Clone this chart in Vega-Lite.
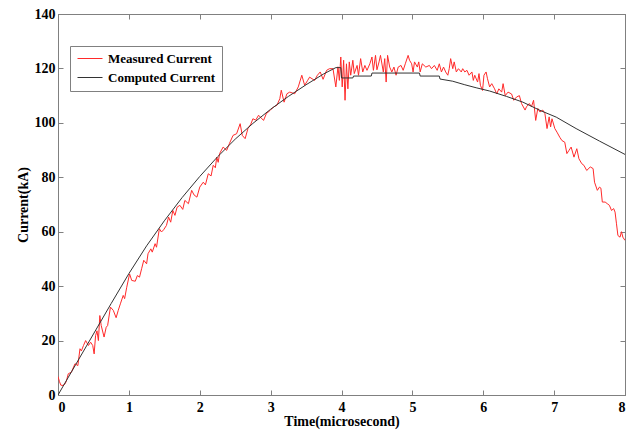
{
  "$schema": "https://vega.github.io/schema/vega-lite/v6.json",
  "autosize": {"type": "none"},
  "width": 567,
  "height": 381,
  "padding": {"left": 58, "top": 14, "right": 9, "bottom": 36},
  "background": "white",
  "config": {
    "view": {"stroke": "#808080", "strokeWidth": 1},
    "font": "Liberation Serif",
    "axis": {
      "grid": false,
      "domainColor": "#808080",
      "tickColor": "#808080",
      "tickSize": -5,
      "labelFont": "Liberation Serif",
      "labelFontWeight": "bold",
      "labelFontSize": 14,
      "labelColor": "black",
      "titleFont": "Liberation Serif",
      "titleFontWeight": "bold",
      "titleFontSize": 14,
      "titleColor": "black"
    },
    "legend": {
      "labelFont": "Liberation Serif",
      "labelFontWeight": "bold",
      "labelFontSize": 13,
      "labelColor": "black"
    }
  },
  "data": {"values": [
    {"t":0,"i":6.8,"s":"Measured Current"},{"t":0.02,"i":5.0,"s":"Measured Current"},{"t":0.04,"i":3.6,"s":"Measured Current"},{"t":0.07,"i":3.5,"s":"Measured Current"},{"t":0.1,"i":4.1,"s":"Measured Current"},{"t":0.12,"i":5.3,"s":"Measured Current"},{"t":0.145,"i":7.8,"s":"Measured Current"},{"t":0.19,"i":8.4,"s":"Measured Current"},{"t":0.24,"i":11.5,"s":"Measured Current"},{"t":0.28,"i":10.8,"s":"Measured Current"},
    {"t":0.31,"i":17,"s":"Measured Current"},{"t":0.33,"i":16.2,"s":"Measured Current"},{"t":0.36,"i":18.2,"s":"Measured Current"},{"t":0.39,"i":20,"s":"Measured Current"},{"t":0.43,"i":18.2,"s":"Measured Current"},{"t":0.46,"i":19.4,"s":"Measured Current"},{"t":0.49,"i":18.2,"s":"Measured Current"},{"t":0.51,"i":15.1,"s":"Measured Current"},{"t":0.53,"i":21.8,"s":"Measured Current"},{"t":0.55,"i":23.6,"s":"Measured Current"},
    {"t":0.57,"i":20,"s":"Measured Current"},{"t":0.59,"i":29.2,"s":"Measured Current"},{"t":0.61,"i":25.5,"s":"Measured Current"},{"t":0.65,"i":21.3,"s":"Measured Current"},{"t":0.68,"i":24.9,"s":"Measured Current"},{"t":0.70,"i":25.5,"s":"Measured Current"},{"t":0.74,"i":32.3,"s":"Measured Current"},{"t":0.78,"i":31.1,"s":"Measured Current"},{"t":0.82,"i":28.4,"s":"Measured Current"},{"t":0.85,"i":31.1,"s":"Measured Current"},
    {"t":0.88,"i":33.5,"s":"Measured Current"},{"t":0.92,"i":36.6,"s":"Measured Current"},{"t":0.94,"i":35.4,"s":"Measured Current"},{"t":0.97,"i":39.6,"s":"Measured Current"},{"t":1.01,"i":44.5,"s":"Measured Current"},{"t":1.04,"i":42.1,"s":"Measured Current"},{"t":1.09,"i":41.8,"s":"Measured Current"},{"t":1.12,"i":43.9,"s":"Measured Current"},{"t":1.15,"i":43.3,"s":"Measured Current"},{"t":1.18,"i":46.4,"s":"Measured Current"},
    {"t":1.21,"i":49.5,"s":"Measured Current"},{"t":1.25,"i":48.2,"s":"Measured Current"},{"t":1.27,"i":51.9,"s":"Measured Current"},{"t":1.31,"i":53.7,"s":"Measured Current"},{"t":1.33,"i":52.5,"s":"Measured Current"},{"t":1.37,"i":55.6,"s":"Measured Current"},{"t":1.39,"i":54.3,"s":"Measured Current"},{"t":1.43,"i":61.1,"s":"Measured Current"},{"t":1.46,"i":59.9,"s":"Measured Current"},{"t":1.49,"i":60.7,"s":"Measured Current"},
    {"t":1.53,"i":62.3,"s":"Measured Current"},{"t":1.56,"i":65.4,"s":"Measured Current"},{"t":1.59,"i":63.5,"s":"Measured Current"},{"t":1.62,"i":67.8,"s":"Measured Current"},{"t":1.65,"i":66.0,"s":"Measured Current"},{"t":1.68,"i":69.0,"s":"Measured Current"},{"t":1.72,"i":69.7,"s":"Measured Current"},{"t":1.76,"i":68.2,"s":"Measured Current"},{"t":1.79,"i":71.5,"s":"Measured Current"},{"t":1.84,"i":70.3,"s":"Measured Current"},
    {"t":1.886,"i":75.2,"s":"Measured Current"},{"t":1.92,"i":73.5,"s":"Measured Current"},{"t":1.96,"i":72.7,"s":"Measured Current"},{"t":2.0,"i":76.4,"s":"Measured Current"},{"t":2.05,"i":78.2,"s":"Measured Current"},{"t":2.08,"i":77.2,"s":"Measured Current"},{"t":2.12,"i":81.3,"s":"Measured Current"},{"t":2.16,"i":80.5,"s":"Measured Current"},{"t":2.19,"i":84.4,"s":"Measured Current"},{"t":2.22,"i":83.5,"s":"Measured Current"},
    {"t":2.24,"i":87.4,"s":"Measured Current"},{"t":2.26,"i":85.5,"s":"Measured Current"},{"t":2.28,"i":88.7,"s":"Measured Current"},{"t":2.33,"i":91.1,"s":"Measured Current"},{"t":2.38,"i":89.9,"s":"Measured Current"},{"t":2.42,"i":92.5,"s":"Measured Current"},{"t":2.47,"i":95.4,"s":"Measured Current"},{"t":2.52,"i":96,"s":"Measured Current"},{"t":2.57,"i":99.7,"s":"Measured Current"},{"t":2.6,"i":95.4,"s":"Measured Current"},
    {"t":2.64,"i":94.2,"s":"Measured Current"},{"t":2.68,"i":97.9,"s":"Measured Current"},{"t":2.72,"i":99.5,"s":"Measured Current"},{"t":2.75,"i":101.5,"s":"Measured Current"},{"t":2.79,"i":101,"s":"Measured Current"},{"t":2.83,"i":102.8,"s":"Measured Current"},{"t":2.9,"i":100.9,"s":"Measured Current"},{"t":2.94,"i":103.4,"s":"Measured Current"},{"t":2.99,"i":104.5,"s":"Measured Current"},{"t":3.04,"i":105.8,"s":"Measured Current"},
    {"t":3.09,"i":106.5,"s":"Measured Current"},{"t":3.13,"i":108.9,"s":"Measured Current"},{"t":3.15,"i":112,"s":"Measured Current"},{"t":3.19,"i":107.6,"s":"Measured Current"},{"t":3.23,"i":110.7,"s":"Measured Current"},{"t":3.27,"i":111.3,"s":"Measured Current"},{"t":3.34,"i":110.7,"s":"Measured Current"},{"t":3.39,"i":113.2,"s":"Measured Current"},{"t":3.44,"i":117.5,"s":"Measured Current"},{"t":3.48,"i":113.8,"s":"Measured Current"},
    {"t":3.52,"i":115.5,"s":"Measured Current"},{"t":3.55,"i":116.8,"s":"Measured Current"},{"t":3.62,"i":115.6,"s":"Measured Current"},{"t":3.66,"i":117.5,"s":"Measured Current"},{"t":3.70,"i":118.7,"s":"Measured Current"},{"t":3.74,"i":116,"s":"Measured Current"},{"t":3.79,"i":119.3,"s":"Measured Current"},{"t":3.83,"i":119.9,"s":"Measured Current"},{"t":3.88,"i":119.9,"s":"Measured Current"},{"t":3.92,"i":113.2,"s":"Measured Current"},
    {"t":3.95,"i":120.6,"s":"Measured Current"},{"t":3.97,"i":115.6,"s":"Measured Current"},{"t":3.99,"i":124.2,"s":"Measured Current"},{"t":4.01,"i":113.2,"s":"Measured Current"},{"t":4.03,"i":123,"s":"Measured Current"},{"t":4.05,"i":108.3,"s":"Measured Current"},{"t":4.07,"i":121.7,"s":"Measured Current"},{"t":4.09,"i":112.5,"s":"Measured Current"},{"t":4.11,"i":122.4,"s":"Measured Current"},{"t":4.13,"i":117.5,"s":"Measured Current"},
    {"t":4.16,"i":123,"s":"Measured Current"},{"t":4.18,"i":118.1,"s":"Measured Current"},{"t":4.22,"i":121.1,"s":"Measured Current"},{"t":4.24,"i":117.5,"s":"Measured Current"},{"t":4.27,"i":123.6,"s":"Measured Current"},{"t":4.30,"i":118.7,"s":"Measured Current"},{"t":4.33,"i":121.1,"s":"Measured Current"},{"t":4.36,"i":119.3,"s":"Measured Current"},{"t":4.40,"i":121.7,"s":"Measured Current"},{"t":4.43,"i":124.2,"s":"Measured Current"},
    {"t":4.45,"i":119.3,"s":"Measured Current"},{"t":4.48,"i":124.8,"s":"Measured Current"},{"t":4.50,"i":119.5,"s":"Measured Current"},{"t":4.53,"i":122.4,"s":"Measured Current"},{"t":4.55,"i":124.8,"s":"Measured Current"},{"t":4.59,"i":118.7,"s":"Measured Current"},{"t":4.61,"i":123.6,"s":"Measured Current"},{"t":4.63,"i":115,"s":"Measured Current"},{"t":4.65,"i":124.8,"s":"Measured Current"},{"t":4.68,"i":120.5,"s":"Measured Current"},
    {"t":4.71,"i":118.7,"s":"Measured Current"},{"t":4.74,"i":120.5,"s":"Measured Current"},{"t":4.77,"i":117.5,"s":"Measured Current"},{"t":4.80,"i":120.5,"s":"Measured Current"},{"t":4.84,"i":121.1,"s":"Measured Current"},{"t":4.87,"i":119.3,"s":"Measured Current"},{"t":4.90,"i":121.7,"s":"Measured Current"},{"t":4.94,"i":124.8,"s":"Measured Current"},{"t":4.96,"i":123,"s":"Measured Current"},{"t":4.99,"i":121.7,"s":"Measured Current"},
    {"t":5.01,"i":118.7,"s":"Measured Current"},{"t":5.03,"i":122.4,"s":"Measured Current"},{"t":5.07,"i":120.5,"s":"Measured Current"},{"t":5.09,"i":122.4,"s":"Measured Current"},{"t":5.11,"i":118.7,"s":"Measured Current"},{"t":5.14,"i":121.7,"s":"Measured Current"},{"t":5.19,"i":120.5,"s":"Measured Current"},{"t":5.24,"i":121.1,"s":"Measured Current"},{"t":5.27,"i":119.9,"s":"Measured Current"},{"t":5.31,"i":121.1,"s":"Measured Current"},
    {"t":5.35,"i":119.3,"s":"Measured Current"},{"t":5.38,"i":121.7,"s":"Measured Current"},{"t":5.41,"i":118.7,"s":"Measured Current"},{"t":5.44,"i":120.5,"s":"Measured Current"},{"t":5.47,"i":118.7,"s":"Measured Current"},{"t":5.50,"i":117.5,"s":"Measured Current"},{"t":5.52,"i":119.9,"s":"Measured Current"},{"t":5.54,"i":123.6,"s":"Measured Current"},{"t":5.57,"i":119.9,"s":"Measured Current"},{"t":5.59,"i":122.4,"s":"Measured Current"},
    {"t":5.62,"i":118.7,"s":"Measured Current"},{"t":5.65,"i":119.9,"s":"Measured Current"},{"t":5.69,"i":118.7,"s":"Measured Current"},{"t":5.71,"i":119.9,"s":"Measured Current"},{"t":5.74,"i":118.7,"s":"Measured Current"},{"t":5.77,"i":119.3,"s":"Measured Current"},{"t":5.80,"i":117.5,"s":"Measured Current"},{"t":5.84,"i":118.7,"s":"Measured Current"},{"t":5.86,"i":115.6,"s":"Measured Current"},{"t":5.88,"i":117.5,"s":"Measured Current"},
    {"t":5.92,"i":115,"s":"Measured Current"},{"t":5.94,"i":118.1,"s":"Measured Current"},{"t":5.96,"i":113.8,"s":"Measured Current"},{"t":5.99,"i":111.9,"s":"Measured Current"},{"t":6.01,"i":117.5,"s":"Measured Current"},{"t":6.04,"i":118.7,"s":"Measured Current"},{"t":6.06,"i":116.2,"s":"Measured Current"},{"t":6.09,"i":113.2,"s":"Measured Current"},{"t":6.12,"i":114.4,"s":"Measured Current"},{"t":6.16,"i":112.5,"s":"Measured Current"},
    {"t":6.19,"i":110.6,"s":"Measured Current"},{"t":6.22,"i":112.5,"s":"Measured Current"},{"t":6.26,"i":111.3,"s":"Measured Current"},{"t":6.28,"i":114.4,"s":"Measured Current"},{"t":6.31,"i":110,"s":"Measured Current"},{"t":6.35,"i":111.3,"s":"Measured Current"},{"t":6.40,"i":110.6,"s":"Measured Current"},{"t":6.43,"i":108.3,"s":"Measured Current"},{"t":6.47,"i":109.5,"s":"Measured Current"},{"t":6.51,"i":110,"s":"Measured Current"},
    {"t":6.54,"i":107.1,"s":"Measured Current"},{"t":6.59,"i":104.7,"s":"Measured Current"},{"t":6.61,"i":105.9,"s":"Measured Current"},{"t":6.65,"i":107.1,"s":"Measured Current"},{"t":6.68,"i":105.9,"s":"Measured Current"},{"t":6.71,"i":108.3,"s":"Measured Current"},{"t":6.74,"i":100.9,"s":"Measured Current"},{"t":6.77,"i":105.3,"s":"Measured Current"},{"t":6.80,"i":104,"s":"Measured Current"},{"t":6.84,"i":104.7,"s":"Measured Current"},
    {"t":6.87,"i":103.4,"s":"Measured Current"},{"t":6.90,"i":97.9,"s":"Measured Current"},{"t":6.93,"i":102.2,"s":"Measured Current"},{"t":6.95,"i":98.5,"s":"Measured Current"},{"t":6.97,"i":101.5,"s":"Measured Current"},{"t":7.01,"i":97.9,"s":"Measured Current"},{"t":7.04,"i":96.6,"s":"Measured Current"},{"t":7.08,"i":94.7,"s":"Measured Current"},{"t":7.11,"i":93.5,"s":"Measured Current"},{"t":7.15,"i":92.9,"s":"Measured Current"},
    {"t":7.18,"i":88.7,"s":"Measured Current"},{"t":7.21,"i":89.9,"s":"Measured Current"},{"t":7.24,"i":91.1,"s":"Measured Current"},{"t":7.28,"i":87.4,"s":"Measured Current"},{"t":7.32,"i":90.5,"s":"Measured Current"},{"t":7.35,"i":86.8,"s":"Measured Current"},{"t":7.39,"i":85,"s":"Measured Current"},{"t":7.42,"i":84.4,"s":"Measured Current"},{"t":7.46,"i":82.5,"s":"Measured Current"},{"t":7.51,"i":83.8,"s":"Measured Current"},
    {"t":7.55,"i":83.2,"s":"Measured Current"},{"t":7.57,"i":78.2,"s":"Measured Current"},{"t":7.61,"i":75.2,"s":"Measured Current"},{"t":7.64,"i":76.4,"s":"Measured Current"},{"t":7.66,"i":76.0,"s":"Measured Current"},{"t":7.68,"i":70.9,"s":"Measured Current"},{"t":7.72,"i":70.9,"s":"Measured Current"},{"t":7.75,"i":70.3,"s":"Measured Current"},{"t":7.78,"i":69.7,"s":"Measured Current"},{"t":7.81,"i":67.8,"s":"Measured Current"},
    {"t":7.84,"i":68.5,"s":"Measured Current"},{"t":7.86,"i":67.2,"s":"Measured Current"},{"t":7.88,"i":62.9,"s":"Measured Current"},{"t":7.90,"i":58.6,"s":"Measured Current"},{"t":7.93,"i":58,"s":"Measured Current"},{"t":7.95,"i":60,"s":"Measured Current"},{"t":7.97,"i":58,"s":"Measured Current"},{"t":8.0,"i":56.8,"s":"Measured Current"},
    {"t":0,"i":0,"s":"Computed Current"},{"t":0.25,"i":11.2,"s":"Computed Current"},{"t":0.5,"i":22.4,"s":"Computed Current"},{"t":0.75,"i":33.6,"s":"Computed Current"},{"t":1.0,"i":44.6,"s":"Computed Current"},{"t":1.25,"i":54.8,"s":"Computed Current"},{"t":1.5,"i":64.0,"s":"Computed Current"},{"t":1.75,"i":72.5,"s":"Computed Current"},{"t":2.0,"i":80.3,"s":"Computed Current"},{"t":2.25,"i":87.5,"s":"Computed Current"},
    {"t":2.5,"i":94,"s":"Computed Current"},{"t":2.75,"i":99.8,"s":"Computed Current"},{"t":3.0,"i":105,"s":"Computed Current"},{"t":3.25,"i":109.7,"s":"Computed Current"},{"t":3.5,"i":114,"s":"Computed Current"},{"t":3.75,"i":118,"s":"Computed Current"},{"t":3.92,"i":120.3,"s":"Computed Current"},{"t":3.99,"i":120.3,"s":"Computed Current"},{"t":4.0,"i":116.5,"s":"Computed Current"},{"t":4.16,"i":116.5,"s":"Computed Current"},
    {"t":4.17,"i":117.2,"s":"Computed Current"},{"t":4.42,"i":117.2,"s":"Computed Current"},{"t":4.43,"i":118.3,"s":"Computed Current"},{"t":5.1,"i":118.3,"s":"Computed Current"},{"t":5.11,"i":117.2,"s":"Computed Current"},{"t":5.38,"i":117.2,"s":"Computed Current"},{"t":5.39,"i":116.1,"s":"Computed Current"},{"t":5.57,"i":115.3,"s":"Computed Current"},{"t":5.74,"i":114,"s":"Computed Current"},{"t":5.9,"i":112.9,"s":"Computed Current"},
    {"t":6.09,"i":111.7,"s":"Computed Current"},{"t":6.33,"i":109.7,"s":"Computed Current"},{"t":6.56,"i":107.6,"s":"Computed Current"},{"t":6.8,"i":104.6,"s":"Computed Current"},{"t":7.03,"i":102.1,"s":"Computed Current"},{"t":7.31,"i":97.9,"s":"Computed Current"},{"t":7.64,"i":93.3,"s":"Computed Current"},{"t":8.0,"i":88.4,"s":"Computed Current"}
  ]},
  "resolve": {"axis": {"x": "independent", "y": "independent"}},
  "layer": [
    {
      "transform": [{"filter": "datum.s === 'Measured Current'"}],
      "mark": {"type": "line", "strokeWidth": 1, "clip": true},
      "encoding": {
        "x": {"field": "t", "type": "quantitative", "scale": {"domain": [0, 8], "nice": false},
              "axis": {"orient": "bottom", "title": "Time(microsecond)", "values": [0,1,2,3,4,5,6,7,8], "labelPadding": 10, "titlePadding": 0}},
        "y": {"field": "i", "type": "quantitative", "scale": {"domain": [0, 140], "nice": false},
              "axis": {"orient": "left", "title": "Current(kA)", "values": [0,20,40,60,80,100,120,140], "labelPadding": 8, "titlePadding": 4}},
        "color": {"field": "s", "type": "nominal",
                  "scale": {"domain": ["Measured Current", "Computed Current"], "range": ["#ff2a2a", "#333333"]},
                  "legend": {"orient": "none", "legendX": 12, "legendY": 32, "title": null, "symbolType": "M-2.5,0H2.5", "symbolSize": 100, "symbolStrokeWidth": 1, "symbolOffset": 7.5, "strokeColor": "#808080", "padding": 6, "fillColor": "white", "rowPadding": 5, "labelOffset": 11.5}}
      }
    },
    {
      "transform": [{"filter": "datum.s === 'Computed Current'"}],
      "mark": {"type": "line", "strokeWidth": 1, "clip": true},
      "encoding": {
        "x": {"field": "t", "type": "quantitative", "scale": {"domain": [0, 8], "nice": false},
              "axis": {"orient": "top", "title": null, "labels": false, "values": [0,1,2,3,4,5,6,7,8]}},
        "y": {"field": "i", "type": "quantitative", "scale": {"domain": [0, 140], "nice": false},
              "axis": {"orient": "right", "title": null, "labels": false, "values": [0,20,40,60,80,100,120,140]}},
        "color": {"field": "s", "type": "nominal"}
      }
    }
  ]
}
